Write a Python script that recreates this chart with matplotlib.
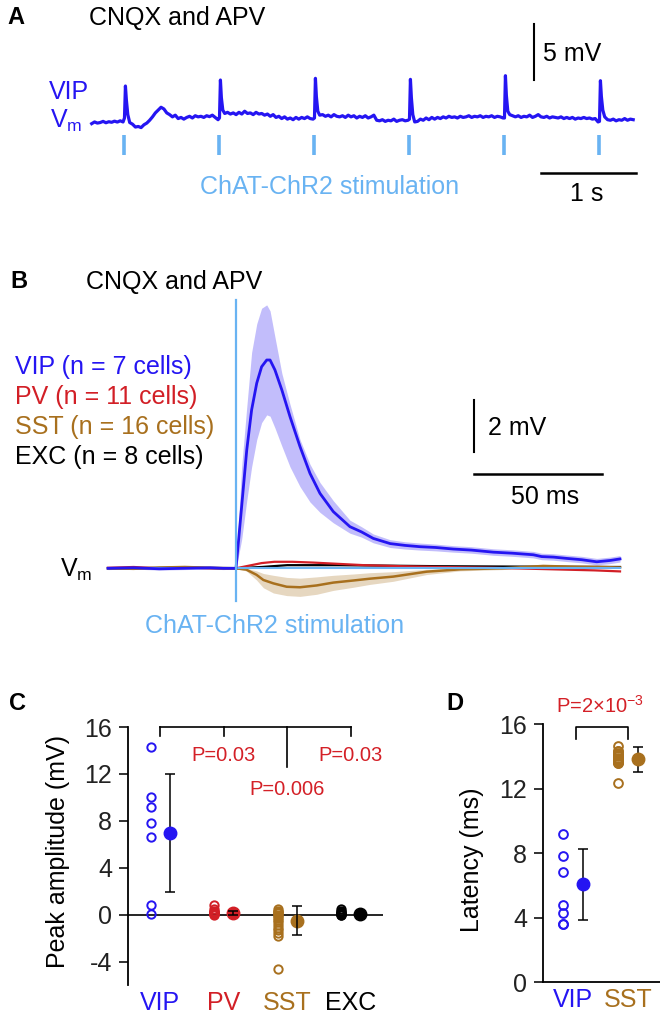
import numpy as np
import matplotlib.pyplot as plt

plt.rcParams['font.family'] = ['Liberation Sans', 'DejaVu Sans']
plt.rcParams['mathtext.fontset'] = 'custom'
plt.rcParams['mathtext.rm'] = 'Liberation Sans'
plt.rcParams['mathtext.it'] = 'Liberation Sans'
plt.rcParams['axes.unicode_minus'] = False

VIP_C = '#2515f2'
PV_C = '#d21f26'
SST_C = '#a8701e'
EXC_C = 'black'
STIM_C = '#69b3f2'
P_C = '#d42027'

# ---------------- panel A : VIP Vm, 1 Hz ChAT-ChR2 stimulation (s, mV)
stim_times_a = [0, 1, 2, 3, 4, 5]
pre_t = [-0.34, -0.31, -0.28, -0.25, -0.22, -0.19, -0.16, -0.13, -0.10, -0.07, -0.04, -0.01]
pre_v = [-0.5, -0.35, -0.45, -0.4, -0.3, -0.42, -0.33, -0.38, -0.28, -0.36, -0.25, -0.35]
spike_dt = [0.005, 0.015, 0.025, 0.04, 0.06]
spike_v = [
    [0.0, 2.83, 1.6, 0.3, -0.4],
    [0.0, 3.36, 1.8, 0.7, 0.4],
    [0.0, 3.51, 1.9, 0.6, 0.25],
    [-0.1, 3.42, 1.8, 0.3, -0.35],
    [0.0, 3.74, 2.0, 0.6, 0.3],
    [-0.3, 3.30, 1.9, 0.7, 0.1],
]
base_dt = np.arange(0.09, 1.0, 0.03)
base_v = [
    [-0.55, -0.8, -0.75, -0.85, -0.6, -0.45, -0.2, 0.1, 0.45, 0.7, 0.95, 0.8, 0.45, 0.3, 0.1, 0.25,
     -0.05, 0.05, -0.1, 0.05, 0.15, 0.0, 0.2, 0.1, 0.15, 0.05, 0.2, 0.12, 0.25, 0.05, -0.15],
    [0.5, 0.35, 0.45, 0.3, 0.5, 0.35, 0.6, 0.4, 0.45, 0.3, 0.5, 0.35, 0.4, 0.25, 0.35, 0.15,
     0.3, 0.05, 0.15, -0.05, 0.1, -0.1, 0.0, -0.15, 0.05, -0.1, 0.05, -0.05, 0.1, -0.05, -0.1],
    [0.3, 0.15, 0.25, 0.1, 0.3, 0.15, 0.1, 0.2, 0.05, 0.25, 0.1, 0.2, 0.0, 0.15, 0.05, 0.2,
     0.0, 0.1, 0.25, -0.2, -0.25, -0.15, -0.3, -0.2, -0.25, -0.1, -0.3, -0.2, -0.15, -0.25, -0.2],
    [-0.3, -0.1, -0.2, 0.0, -0.15, 0.05, -0.1, 0.05, -0.05, 0.1, 0.0, 0.15, 0.05, 0.1, 0.0, 0.15,
     0.05, 0.1, 0.2, 0.05, 0.15, 0.1, 0.2, 0.05, 0.15, 0.1, 0.2, 0.05, 0.15, 0.1, 0.0],
    [0.2, 0.1, 0.2, 0.05, 0.15, 0.1, 0.25, 0.05, 0.15, 0.3, 0.1, 0.05, 0.15, 0.0, 0.1, 0.05,
     0.0, 0.1, -0.05, 0.05, -0.05, 0.05, -0.1, 0.0, -0.05, 0.05, -0.05, 0.0, -0.1, -0.05, -0.35],
    [-0.15, -0.2, -0.1, -0.25, -0.15, -0.2, -0.05, -0.2, -0.1, -0.15],
]

# ---------------- panel B : mean Vm +- SEM (ms, mV)
vip_t = [-50, -40, -30, -20, -10, -5, 0, 2.2, 4.2, 6.1, 8.1, 10.0, 12.0, 13.3, 15.2, 17.9, 21.1, 25.0,
         28.9, 32.8, 38.0, 44.5, 49.0, 53.6, 60.2, 66.0, 71.9, 78.0, 84.9, 92.0, 100.5, 108.0, 116.1,
         119.4, 124.0, 129.2, 135.0, 140.9, 146.1, 150.0]
vip_m = [0.0, 0.02, -0.02, 0.0, 0.02, 0.0, 0.0, 2.37, 4.55, 6.09, 7.12, 7.75, 8.01, 8.01, 7.63, 6.86, 5.83,
         4.68, 3.65, 2.88, 2.18, 1.6, 1.4, 1.15, 0.95, 0.88, 0.83, 0.8, 0.74, 0.7, 0.62, 0.58, 0.52, 0.45,
         0.43, 0.38, 0.33, 0.25, 0.3, 0.36]
vip_hi = [0.05, 0.07, 0.03, 0.05, 0.07, 0.05, 0.03, 3.9, 6.2, 8.3, 9.4, 10.0, 10.13, 9.9, 8.9, 7.5, 6.3,
          4.95, 4.0, 3.3, 2.6, 1.85, 1.6, 1.32, 1.1, 1.02, 0.97, 0.93, 0.87, 0.83, 0.75, 0.71, 0.65, 0.58,
          0.56, 0.51, 0.46, 0.38, 0.43, 0.49]
vip_lo = [-0.05, -0.03, -0.07, -0.05, -0.03, -0.05, -0.03, 1.1, 2.6, 3.9, 4.95, 5.6, 5.9, 5.85, 5.4, 4.7,
          3.9, 3.14, 2.55, 2.15, 1.75, 1.35, 1.2, 0.98, 0.8, 0.74, 0.7, 0.67, 0.62, 0.58, 0.5, 0.46, 0.4,
          0.33, 0.31, 0.26, 0.21, 0.13, 0.18, 0.24]

sst_t = [-50, -40, -30, -20, -10, 0, 4, 8, 10.7, 14.6, 19.8, 25, 31.5, 38, 45.8, 52.3, 61.4, 74.5, 87.5,
         104, 120, 132, 142, 150]
sst_m = [0.0, -0.02, 0.03, 0.05, 0.02, 0.0, -0.05, -0.25, -0.45, -0.58, -0.71, -0.73, -0.66, -0.55, -0.47,
         -0.4, -0.32, -0.13, -0.04, 0.0, 0.09, 0.06, 0.05, 0.03]
sst_hi = [0.03, 0.01, 0.06, 0.08, 0.05, 0.02, 0.0, -0.1, -0.2, -0.27, -0.35, -0.38, -0.33, -0.27, -0.22,
          -0.17, -0.13, -0.04, 0.02, 0.05, 0.13, 0.1, 0.09, 0.06]
sst_lo = [-0.03, -0.05, 0.0, 0.02, -0.01, -0.02, -0.1, -0.45, -0.75, -0.95, -1.05, -1.08, -1.0, -0.85,
          -0.73, -0.62, -0.5, -0.24, -0.1, -0.05, 0.05, 0.02, 0.01, 0.0]

pv_t = [-50, -40, -30, -20, -10, 0, 5, 10, 15, 22, 30, 40, 50, 65, 80, 100, 120, 140, 150]
pv_m = [0.02, 0.05, 0.0, 0.03, 0.0, 0.0, 0.1, 0.2, 0.25, 0.25, 0.22, 0.17, 0.12, 0.08, 0.05, 0.02, -0.03,
        -0.08, -0.12]
exc_t = [-50, -20, 0, 10, 20, 40, 60, 80, 100, 120, 150]
exc_m = [0.0, 0.02, 0.0, 0.05, 0.12, 0.12, 0.1, 0.08, 0.07, 0.06, 0.05]

# ---------------- panel C : peak amplitude (mV)
groups_c = ['VIP', 'PV', 'SST', 'EXC']
colors_c = [VIP_C, PV_C, SST_C, EXC_C]
amp_vip = [14.3, 10.0, 9.2, 7.85, 6.6, 0.8, 0.05]
amp_pv = [0.8, 0.5, 0.35, 0.25, 0.2, 0.15, 0.1, 0.05, 0.0, 0.05, 0.1]
amp_sst = [0.45, 0.35, 0.25, 0.1, 0.0, -0.1, -0.25, -0.45, -0.6, -0.9, -1.1, -1.3, -1.55, -1.85, -4.65, 0.2]
amp_exc = [0.45, 0.3, 0.2, 0.1, 0.05, 0.0, 0.0, 0.15]
amp_mean = [6.95, 0.12, -0.5, 0.08]
amp_err = [5.05, 0.18, 1.25, 0.1]
p_c = ['P=0.03', 'P=0.006', 'P=0.03']

# ---------------- panel D : latency (ms)
groups_d = ['VIP', 'SST']
colors_d = [VIP_C, SST_C]
lat_vip = [9.15, 7.8, 6.85, 4.8, 4.25, 3.6, 3.6]
lat_sst = [14.66, 14.35, 14.2, 14.08, 14.0, 13.9, 13.82, 13.75, 13.7, 13.6, 13.57, 14.1, 13.85, 14.3,
           13.65, 12.37]
lat_mean = [6.05, 13.8]
lat_err = [2.2, 0.75]

W, H = 660, 1013
fig = plt.figure(figsize=(W / 100, H / 100), dpi=100)


def ftext(x, y, s, **kw):
    fig.text(x / W, 1 - y / H, s, **kw)


def add_axes(x0, y0, x1, y1):
    return fig.add_axes([x0 / W, 1 - y1 / H, (x1 - x0) / W, (y1 - y0) / H])


# ===== A =====
axA = add_axes(85, 20, 645, 210)
tA = list(pre_t)
vA = list(pre_v)
for k in range(6):
    tA += [k + d for d in spike_dt]
    vA += spike_v[k]
    tA += [k + d for d in base_dt[:len(base_v[k])]]
    vA += base_v[k]
axA.plot(tA, vA, color=VIP_C, lw=2.3)
axA.vlines(stim_times_a, -1.5, -3.27, color=STIM_C, lw=2.6)
axA.plot([4.32, 4.32], [3.36, 8.36], color='black', lw=1.5)
axA.plot([4.39, 5.39], [-4.89, -4.89], color='black', lw=1.8)
axA.set_xlim(-0.4105, 5.4842)
axA.set_ylim(-8.14, 8.67)
axA.axis('off')

ftext(16, 17, 'A', fontsize=17, fontweight='bold', ha='center', va='center')
ftext(89, 18, 'CNQX and APV', fontsize=18, ha='left', va='center')
ftext(543, 54, '5 mV', fontsize=18, ha='left', va='center')
ftext(89, 92, 'VIP', fontsize=18, color=VIP_C, ha='right', va='center')
ftext(50, 121, r'V$_{\mathrm{m}}$', fontsize=18, color=VIP_C, ha='left', va='center')
ftext(330, 187, 'ChAT-ChR2 stimulation', fontsize=18, color=STIM_C, ha='center', va='center')
ftext(587, 194, '1 s', fontsize=18, ha='center', va='center')

# ===== B =====
axB = add_axes(100, 295, 630, 610)
axB.fill_between(vip_t, vip_lo, vip_hi, color=VIP_C, alpha=0.28, lw=0)
axB.fill_between(sst_t, sst_lo, sst_hi, color=SST_C, alpha=0.28, lw=0)
axB.plot(exc_t, exc_m, color=EXC_C, lw=1.6)
axB.plot(pv_t, pv_m, color=PV_C, lw=1.6)
axB.plot(sst_t, sst_m, color=SST_C, lw=1.8)
axB.axhline(0, xmin=(vip_t[0] + 53.125) / 207.0, xmax=(vip_t[-1] + 53.125) / 207.0, color=STIM_C, lw=1.5)
axB.plot(vip_t, vip_m, color=VIP_C, lw=2.0)
axB.axvline(0, ymin=(-1.27 + 1.604) / 12.114, ymax=(10.3 + 1.604) / 12.114, color=STIM_C, lw=1.6)
axB.plot([93, 93], [4.47, 6.47], color='black', lw=1.5)
axB.plot([93, 143], [3.63, 3.63], color='black', lw=1.8)
axB.set_xlim(-53.125, 153.9)
axB.set_ylim(-1.604, 10.51)
axB.axis('off')

ftext(19, 282, 'B', fontsize=17, fontweight='bold', ha='center', va='center')
ftext(86, 282, 'CNQX and APV', fontsize=18, ha='left', va='center')
legend_b = ['VIP (n = 7 cells)', 'PV (n = 11 cells)', 'SST (n = 16 cells)', 'EXC (n = 8 cells)']
for i, (lab, c) in enumerate(zip(legend_b, [VIP_C, PV_C, SST_C, EXC_C])):
    ftext(15, 367 + 30 * i, lab, fontsize=18, color=c, ha='left', va='center')
ftext(488, 428, '2 mV', fontsize=18, ha='left', va='center')
ftext(545, 497, '50 ms', fontsize=18, ha='center', va='center')
ftext(60, 570, r'V$_{\mathrm{m}}$', fontsize=18, ha='left', va='center')
ftext(275, 626, 'ChAT-ChR2 stimulation', fontsize=18, color=STIM_C, ha='center', va='center')

# ===== C =====
axC = add_axes(128, 727, 383, 985)
amp_all = [amp_vip, amp_pv, amp_sst, amp_exc]
for i, (vals, c) in enumerate(zip(amp_all, colors_c)):
    axC.plot([i - 0.15] * len(vals), vals, 'o', ms=6, mfc='none', mec=c, mew=1.4, zorder=3)
    top = 2 if i in (1, 2) else 5
    axC.errorbar(i + 0.15, amp_mean[i], yerr=amp_err[i], fmt='none', ecolor='black',
                 elinewidth=1.1, capsize=3.5, capthick=1.1, zorder=4)
    axC.plot(i + 0.15, amp_mean[i], 'o', ms=9, color=c, zorder=top)
axC.axhline(0, color='black', lw=1.2, zorder=1)
# comparison bracket VIP vs PV / SST / EXC
axC.plot([0, 3], [16, 16], color='black', lw=1.2, clip_on=False)
for gx, ybot in zip([0, 1, 2, 3], [15.25, 15.25, 12.6, 15.25]):
    axC.plot([gx, gx], [16, ybot], color='black', lw=1.2, clip_on=False)
for gx, gy, s in zip([1, 2, 3], [13.6, 10.7, 13.6], p_c):
    axC.text(gx, gy, s, color=P_C, fontsize=14.5, ha='center', va='center')
axC.set_xlim(-0.51, 3.51)
axC.set_ylim(-6, 16)
axC.set_yticks([-4, 0, 4, 8, 12, 16])
axC.set_xticks(range(4))
axC.set_xticklabels(groups_c)
for lab, c in zip(axC.get_xticklabels(), colors_c):
    lab.set_color(c)
for s in ['top', 'right', 'bottom']:
    axC.spines[s].set_visible(False)
axC.spines['left'].set_linewidth(1.3)
axC.tick_params(axis='y', labelsize=18, length=6.5, width=1.3, pad=5, colors='#222222')
axC.tick_params(axis='x', labelsize=18, length=0, pad=4)
ftext(18, 703, 'C', fontsize=17, fontweight='bold', ha='center', va='center')
ftext(58, 851, 'Peak amplitude (mV)', fontsize=18, rotation=90, ha='center', va='center')

# ===== D =====
axD = add_axes(543, 724, 660, 982)
lat_all = [lat_vip, lat_sst]
for i, (vals, c) in enumerate(zip(lat_all, colors_d)):
    axD.plot([i - 0.18] * len(vals), vals, 'o', ms=6.3, mfc='none', mec=c, mew=1.4, zorder=3)
    axD.errorbar(i + 0.18, lat_mean[i], yerr=lat_err[i], fmt='none', ecolor='black',
                 elinewidth=1.1, capsize=3.5, capthick=1.1, zorder=4)
    axD.plot(i + 0.18, lat_mean[i], 'o', ms=9, color=c, zorder=5)
axD.plot([0.06, 0.06, 0.99, 0.99], [15.1, 15.8, 15.8, 15.1], color='black', lw=1.2, clip_on=False)
axD.text(0.49, 17.1, r'P=2$\mathregular{\times}$10$^{\mathregular{-3}}$', color=P_C, fontsize=14.5,
         ha='center', va='center', clip_on=False)
axD.set_xlim(-0.545, 1.58)
axD.set_ylim(0, 16)
axD.set_yticks([0, 4, 8, 12, 16])
axD.set_xticks([0, 1])
axD.set_xticklabels(groups_d)
for lab, c in zip(axD.get_xticklabels(), colors_d):
    lab.set_color(c)
for s in ['top', 'right']:
    axD.spines[s].set_visible(False)
axD.spines['left'].set_linewidth(1.3)
axD.spines['bottom'].set_linewidth(1.3)
axD.tick_params(axis='y', labelsize=18, length=6.5, width=1.3, pad=5, colors='#222222')
axD.tick_params(axis='x', labelsize=18, length=0, pad=4)
ftext(455, 703, 'D', fontsize=17, fontweight='bold', ha='center', va='center')
ftext(472, 860, 'Latency (ms)', fontsize=18, rotation=90, ha='center', va='center')

fig.savefig('out.png', dpi=100)
